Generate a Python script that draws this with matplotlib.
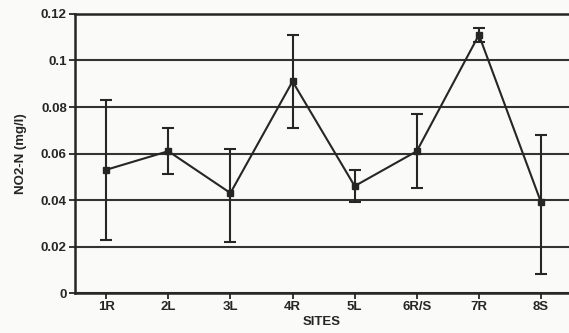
import matplotlib
matplotlib.use("Agg")
import matplotlib.pyplot as plt
import numpy as np

sites = ["1R", "2L", "3L", "4R", "5L", "6R/S", "7R", "8S"]
mean_no2 = [0.053, 0.061, 0.043, 0.091, 0.046, 0.061, 0.111, 0.039]
upper_no2 = [0.083, 0.071, 0.062, 0.111, 0.053, 0.077, 0.114, 0.068]
lower_no2 = [0.023, 0.051, 0.022, 0.071, 0.039, 0.045, 0.108, 0.008]
yticks = [0, 0.02, 0.04, 0.06, 0.08, 0.1, 0.12]
ytick_labels = ["0", "0.02", "0.04", "0.06", "0.08", "0.1", "0.12"]

plt.rcParams["font.family"] = ["Liberation Sans", "DejaVu Sans"]
plt.rcParams["font.weight"] = "bold"

ink = "#262626"
fig = plt.figure(figsize=(5.69, 3.33), dpi=100, facecolor="#fafaf8")
ax = fig.add_axes([0.132, 0.12, 0.868, 0.838], facecolor="#fafaf8")

x = np.arange(1, len(sites) + 1)
mean = np.array(mean_no2)
yerr = np.vstack([mean - np.array(lower_no2), np.array(upper_no2) - mean])

ax.errorbar(x, mean, yerr=yerr, fmt="s-", color=ink, ecolor=ink, elinewidth=1.5,
            capsize=4, capthick=1.5, markersize=5, linewidth=1.5, zorder=3)

ax.set_xlim(0.5, 8.45)
ax.set_ylim(0, 0.12)
ax.set_yticks(yticks)
ax.set_yticklabels(ytick_labels)
ax.set_xticks(x)
ax.set_xticklabels(sites)

ax.yaxis.grid(True, color="#333333", linewidth=1.5, zorder=1)
ax.set_axisbelow(True)

ax.spines["right"].set_visible(False)
for side in ["top", "left", "bottom"]:
    ax.spines[side].set_color(ink)
    ax.spines[side].set_linewidth(1.8)

ax.tick_params(axis="y", direction="out", length=4, width=1.3, colors=ink,
               labelsize=9.5, pad=2)
ax.tick_params(axis="x", direction="out", length=4, width=1.3, colors=ink,
               labelsize=9.5, pad=2)

ax.set_xlabel("SITES", fontsize=9.5, fontweight="bold", color=ink, labelpad=2)
ax.set_ylabel("NO2-N (mg/l)", fontsize=9.5, fontweight="bold", color=ink, labelpad=10)

fig.savefig("out.png", dpi=100, facecolor=fig.get_facecolor())
